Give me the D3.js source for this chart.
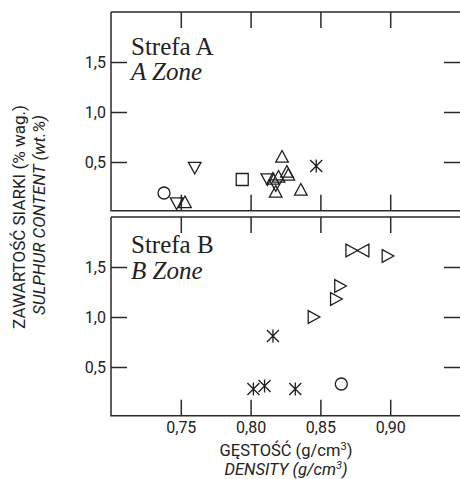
<!DOCTYPE html>
<html>
<head>
<meta charset="utf-8">
<script src="https://cdn.jsdelivr.net/npm/d3@7"></script>
<style>
  html, body { margin: 0; padding: 0; background: #fff; }
  svg { display: block; }
  .sans { font-family: Roboto, "Liberation Sans", sans-serif; fill: #222; }
  .serif { font-family: "Liberation Serif", "Times New Roman", serif; fill: #222; }
</style>
</head>
<body>
<svg id="chart" width="460" height="479"></svg>
<script>
// tick values
const densityTicks = [0.75, 0.80, 0.85, 0.90];
const sulphurTicks = [0.5, 1.0, 1.5];

// Strefa A / A Zone
const zoneADensity = [0.738, 0.747, 0.753, 0.760, 0.794, 0.812, 0.816, 0.820, 0.8225, 0.826, 0.827, 0.818, 0.818, 0.836, 0.847];
const zoneASulphur = [0.19, 0.09, 0.095, 0.445, 0.325, 0.33, 0.33, 0.35, 0.55, 0.40, 0.37, 0.27, 0.20, 0.22, 0.46];
const zoneASymbol = ["circle", "down", "up", "down", "square", "down", "up", "up", "up", "up", "up", "down", "up", "up", "star"];

// Strefa B / B Zone
const zoneBDensity = [0.872, 0.881, 0.898, 0.864, 0.861, 0.845, 0.816, 0.802, 0.810, 0.832, 0.865];
const zoneBSulphur = [1.665, 1.665, 1.61, 1.31, 1.18, 1.0, 0.81, 0.28, 0.31, 0.28, 0.33];
const zoneBSymbol = ["right", "left", "right", "right", "right", "right", "star", "star", "star", "star", "circle"];

const panels = [
  { title: "Strefa A", sub: "A Zone", density: zoneADensity, sulphur: zoneASulphur, symbol: zoneASymbol, top: 12, bottom: 212, titleY: 55, subY: 80 },
  { title: "Strefa B", sub: "B Zone", density: zoneBDensity, sulphur: zoneBSulphur, symbol: zoneBSymbol, top: 217, bottom: 417, titleY: 253, subY: 279 }
];

const pl = d3.formatLocale({ decimal: ",", thousands: " ", grouping: [3], currency: ["", ""] });
const fmtX = pl.format(".2f");
const fmtY = pl.format(".1f");

// custom marker shapes
const tri = (a) => ({
  draw(ctx) {
    const c = Math.cos(a), sn = Math.sin(a);
    const pts = [[0, -6.5], [6.3, 5.2], [-6.3, 5.2]].map(([px, py]) => [px * c - py * sn, px * sn + py * c]);
    ctx.moveTo(pts[0][0], pts[0][1]);
    ctx.lineTo(pts[1][0], pts[1][1]);
    ctx.lineTo(pts[2][0], pts[2][1]);
    ctx.closePath();
  }
});
const shapes = {
  circle: { draw(ctx) { ctx.moveTo(6, 0); ctx.arc(0, 0, 6, 0, 2 * Math.PI); } },
  square: { draw(ctx) { ctx.rect(-6, -6, 12, 12); } },
  up: tri(0),
  down: tri(Math.PI),
  right: tri(Math.PI / 2),
  left: tri(-Math.PI / 2),
  star: { draw(ctx) {
    ctx.moveTo(0, -6.5); ctx.lineTo(0, 6.5);
    ctx.moveTo(-6, -6); ctx.lineTo(6, 6);
    ctx.moveTo(-6, 6); ctx.lineTo(6, -6);
  } }
};

const svg = d3.select("#chart");
const x = d3.scaleLinear().domain([0.70, 0.95]).range([111, 460]);
const tick = 16;

panels.forEach((p, i) => {
  const y = d3.scaleLinear().domain([0, 2]).range([p.bottom, p.top]);
  const g = svg.append("g");
  const fb = p.bottom - 1.3; // frame bottom sits just above zero
  const x0 = x.range()[0], x1 = x.range()[1] + 1;

  // frame
  g.append("path")
    .attr("d", `M${x0},${p.top}H${x1}M${x0},${p.top}V${fb}H${x1}M${x1},${p.top}V${fb}`)
    .attr("fill", "none").attr("stroke", "#2a2a2a").attr("stroke-width", 1.5);

  // inward ticks on all four sides
  const axY = g.append("g").attr("transform", `translate(${x0},0)`)
    .call(d3.axisLeft(y).tickValues(sulphurTicks).tickSize(-tick).tickPadding(5).tickFormat(fmtY));
  g.append("g").attr("transform", `translate(${x.range()[1]},0)`)
    .call(d3.axisRight(y).tickValues(sulphurTicks).tickSize(-tick).tickFormat(""));
  g.append("g").attr("transform", `translate(0,${p.top})`)
    .call(d3.axisTop(x).tickValues(densityTicks).tickSize(-tick).tickFormat(""));
  g.append("g").attr("transform", `translate(0,${fb})`)
    .call(d3.axisBottom(x).tickValues(densityTicks).tickSize(-tick).tickPadding(6).tickFormat(i === 1 ? fmtX : ""));

  g.selectAll(".domain").remove();
  g.selectAll(".tick line").attr("stroke", "#2a2a2a").attr("stroke-width", 1.5);
  g.selectAll(".tick text").attr("class", "sans").attr("font-size", 16);
  axY.selectAll(".tick text").attr("dy", "0.36em");

  // zone label
  g.append("text").attr("class", "serif").attr("x", 131).attr("y", p.titleY)
    .attr("font-size", 25).text(p.title);
  g.append("text").attr("class", "serif").attr("x", 131).attr("y", p.subY)
    .attr("font-size", 25).attr("font-style", "italic").text(p.sub);

  // points
  const pts = p.density.map((d, k) => ({ d, s: p.sulphur[k], t: p.symbol[k] }));
  g.append("g").selectAll("path").data(pts).join("path")
    .attr("transform", (d) => `translate(${x(d.d)},${y(d.s)})`)
    .attr("d", (d) => d3.symbol().type(shapes[d.t])())
    .attr("fill", "none").attr("stroke", "#1e1e1e").attr("stroke-width", 1.3);
});

// axis titles
const xt = svg.append("text").attr("class", "sans").attr("font-size", 16.5)
  .attr("text-anchor", "middle").attr("x", 286).attr("y", 456);
xt.append("tspan").text("GĘSTOŚĆ (g/cm");
xt.append("tspan").attr("font-size", 11).attr("dy", -6).text("3");
xt.append("tspan").attr("dy", 6).text(")");

const xt2 = svg.append("text").attr("class", "sans").attr("font-size", 16.5).attr("font-style", "italic")
  .attr("text-anchor", "middle").attr("x", 286).attr("y", 475);
xt2.append("tspan").text("DENSITY (g/cm");
xt2.append("tspan").attr("font-size", 11).attr("dy", -6).text("3");
xt2.append("tspan").attr("dy", 6).text(")");

svg.append("text").attr("class", "sans").attr("font-size", 17)
  .attr("text-anchor", "middle").attr("transform", "translate(25,217) rotate(-90)")
  .text("ZAWARTOŚĆ SIARKI (% wag.)");
svg.append("text").attr("class", "sans").attr("font-size", 17).attr("font-style", "italic")
  .attr("text-anchor", "middle").attr("transform", "translate(45,215) rotate(-90)")
  .text("SULPHUR CONTENT (wt.%)");
</script>
</body>
</html>
